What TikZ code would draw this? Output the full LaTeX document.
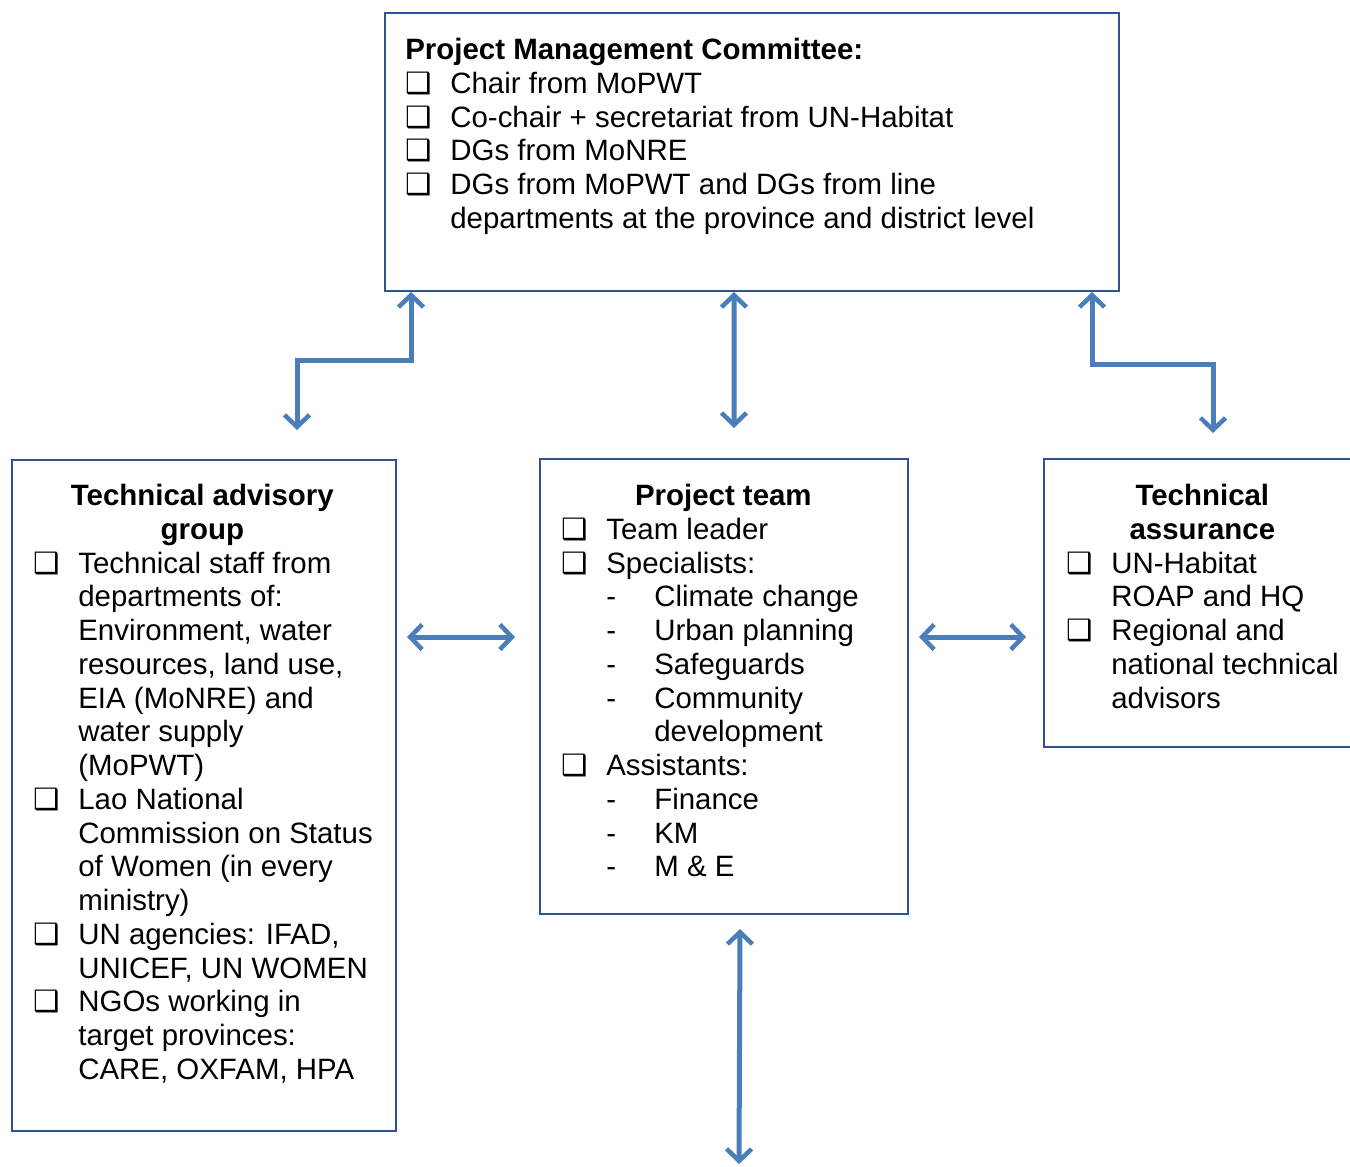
\documentclass[tikz,border=0pt]{standalone}
\usepackage{fontspec}
\setmainfont{Liberation Sans}
\newfontfamily\symfont{DejaVu Sans}
\usetikzlibrary{arrows.meta, positioning}

\definecolor{boxblue}{RGB}{47,84,150}
\definecolor{arrowblue}{RGB}{74,126,187}

\newcommand{\chk}{\makebox[0.9cm][l]{\symfont ❑}}
\newcommand{\ind}{\hspace*{0.9cm}}
\newcommand{\dsh}{\hspace*{0.9cm}\makebox[0.96cm][l]{-}}
\newcommand{\sind}{\hspace*{1.86cm}}
\newcommand{\ttl}[2]{\makebox[#1]{\bfseries #2}}

\begin{document}
\begin{tikzpicture}[ >={Straight Barb[length=0.24cm, width=0.5cm, line width=0.09cm]}, frame/.style={draw=boxblue, line width=0.04cm, anchor=north west, inner sep=0pt}, txt/.style={anchor=north west, inner sep=0pt, align=left, font=\fontsize{16.75}{19.2}\selectfont}, link/.style={<->, draw=arrowblue, line width=0.1cm} ]
		\useasboundingbox (0,0) rectangle (27,-23.32);
		% Boxes
		\node[frame, minimum width=14.68cm, minimum height=5.56cm] (pmc) at (7.68,-0.24) {};
		\node[frame, minimum width=7.68cm, minimum height=13.42cm] (tag) at (0.22,-9.18) {};
		\node[frame, minimum width=7.36cm, minimum height=9.10cm] (team) at (10.78,-9.16) {};
		\node[frame, minimum width=6.2cm, minimum height=5.76cm] (assur) at (20.86,-9.16) {};
		% Committee
		\node[txt, below right=0.52cm and 0.42cm of pmc.north west] (pmctext) {\textbf{Project Management Committee:}\\
			\chk Chair from MoPWT\\
			\chk Co-chair + secretariat from UN-Habitat\\
			\chk DGs from MoNRE\\
			\chk DGs from MoPWT and DGs from line\\
			\ind departments at the province and district level};
		% Advisory group
		\node[txt, below right=0.5cm and 0.44cm of tag.north west] (tagtext) {\ttl{6.76cm}{Technical advisory}\\
			\ttl{6.76cm}{group}\\
			\chk Technical staff from\\
			\ind departments of:\\
			\ind Environment, water\\
			\ind resources, land use,\\
			\ind EIA (MoNRE) and\\
			\ind water supply\\
			\ind (MoPWT)\\
			\chk Lao National\\
			\ind Commission on Status\\
			\ind of Women (in every\\
			\ind ministry)\\
			\chk UN agencies: IFAD,\\
			\ind UNICEF, UN WOMEN\\
			\chk NGOs working in\\
			\ind target provinces:\\
			\ind CARE, OXFAM, HPA};
		% Project team
		\node[txt, below right=0.52cm and 0.44cm of team.north west] (teamtext) {\ttl{6.48cm}{Project team}\\
			\chk Team leader\\
			\chk Specialists:\\
			\dsh Climate change\\
			\dsh Urban planning\\
			\dsh Safeguards\\
			\dsh Community\\
			\sind development\\
			\chk Assistants:\\
			\dsh Finance\\
			\dsh KM\\
			\dsh M \& E};
		% Assurance
		\node[txt, below right=0.52cm and 0.46cm of assur.north west] (assurtext) {\ttl{5.44cm}{Technical}\\
			\ttl{5.44cm}{assurance}\\
			\chk UN-Habitat\\
			\ind ROAP and HQ\\
			\chk Regional and\\
			\ind national technical\\
			\ind advisors};
		% Links
		\coordinate (midrow) at (0,-12.74);
		\coordinate (bottom) at (14.78,-23.28);
		\draw[link] ([xshift=0.54cm]pmc.south west) -- ++(0,-1.36) -| ([xshift=1.86cm, yshift=0.58cm]tag.north);
		\draw[link] ([xshift=-0.36cm]pmc.south) -- ([xshift=0.2cm, yshift=0.6cm]team.north);
		\draw[link] ([xshift=-0.56cm]pmc.south east) -- ++(0,-1.44) -| ([xshift=0.28cm, yshift=0.5cm]assur.north);
		\draw[link] ([xshift=0.2cm]tag.east |- midrow) -- ([xshift=-0.48cm]team.west |- midrow);
		\draw[link] ([xshift=0.2cm]team.east |- midrow) -- ([xshift=-0.34cm]assur.west |- midrow);
		\draw[link] ([xshift=0.32cm, yshift=-0.28cm]team.south) -- (bottom);
\end{tikzpicture}
\end{document}
